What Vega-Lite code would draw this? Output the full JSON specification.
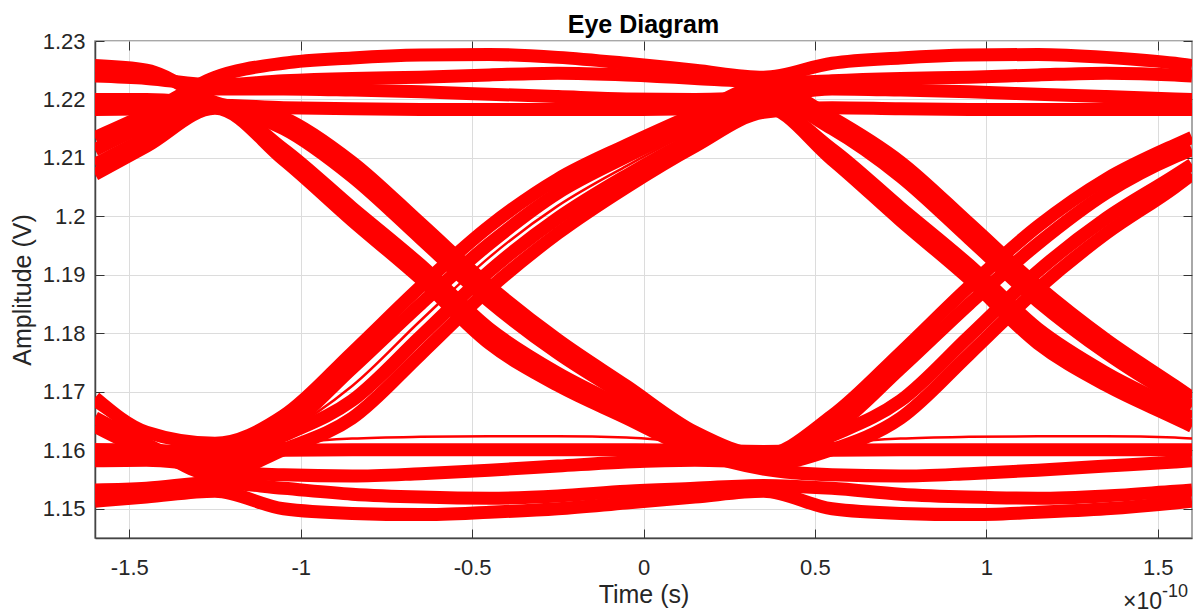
{
"$schema":"https://vega.github.io/schema/vega-lite/v6.json",
"width":1097,"height":497,"autosize":"none",
"padding":{"left":95,"top":41,"right":9,"bottom":78},
"background":"white",
"title":{"text":"Eye Diagram","font":"Liberation Sans","fontSize":25,"fontWeight":"bold","color":"#000000","offset":-8,"anchor":"middle"},
"config":{"view":{"stroke":"#8c8c8c","strokeWidth":1.5},"font":"Liberation Sans"},
"datasets":{"eye":[
{"i":1,"t":-1.6,"v":1.2135},{"i":1,"t":-1.45,"v":1.2175},{"i":1,"t":-1.25,"v":1.2238},{"i":1,"t":-1.05,"v":1.2262},{"i":1,"t":-0.85,"v":1.2271},{"i":1,"t":-0.65,"v":1.2276},{"i":1,"t":-0.45,"v":1.2277},{"i":1,"t":-0.25,"v":1.2272},{"i":1,"t":-0.05,"v":1.2262},{"i":1,"t":0.15,"v":1.2250},{"i":1,"t":0.35,"v":1.2238},{"i":1,"t":0.55,"v":1.2262},{"i":1,"t":0.75,"v":1.2271},{"i":1,"t":0.95,"v":1.2276},{"i":1,"t":1.15,"v":1.2277},{"i":1,"t":1.35,"v":1.2272},{"i":1,"t":1.55,"v":1.2262},{"i":1,"t":1.6,"v":1.2258},
{"i":2,"t":-1.6,"v":1.2240},{"i":2,"t":-1.45,"v":1.2236},{"i":2,"t":-1.25,"v":1.2225},{"i":2,"t":-1.05,"v":1.2232},{"i":2,"t":-0.85,"v":1.2236},{"i":2,"t":-0.65,"v":1.2238},{"i":2,"t":-0.45,"v":1.2242},{"i":2,"t":-0.25,"v":1.2245},{"i":2,"t":-0.05,"v":1.2242},{"i":2,"t":0.15,"v":1.2236},{"i":2,"t":0.35,"v":1.2228},{"i":2,"t":0.55,"v":1.2169},{"i":2,"t":0.75,"v":1.2093},{"i":2,"t":0.95,"v":1.1988},{"i":2,"t":1.15,"v":1.1881},{"i":2,"t":1.35,"v":1.1789},{"i":2,"t":1.55,"v":1.1710},{"i":2,"t":1.6,"v":1.1690},
{"i":3,"t":-1.6,"v":1.2114},{"i":3,"t":-1.45,"v":1.2158},{"i":3,"t":-1.25,"v":1.2218},{"i":3,"t":-1.05,"v":1.2218},{"i":3,"t":-0.85,"v":1.2216},{"i":3,"t":-0.65,"v":1.2213},{"i":3,"t":-0.45,"v":1.2209},{"i":3,"t":-0.25,"v":1.2205},{"i":3,"t":-0.05,"v":1.2201},{"i":3,"t":0.15,"v":1.2200},{"i":3,"t":0.35,"v":1.2205},{"i":3,"t":0.55,"v":1.2218},{"i":3,"t":0.75,"v":1.2216},{"i":3,"t":0.95,"v":1.2213},{"i":3,"t":1.15,"v":1.2209},{"i":3,"t":1.35,"v":1.2205},{"i":3,"t":1.55,"v":1.2201},{"i":3,"t":1.6,"v":1.2200},
{"i":4,"t":-1.6,"v":1.2183},{"i":4,"t":-1.45,"v":1.2184},{"i":4,"t":-1.25,"v":1.2190},{"i":4,"t":-1.05,"v":1.2186},{"i":4,"t":-0.85,"v":1.2184},{"i":4,"t":-0.65,"v":1.2183},{"i":4,"t":-0.45,"v":1.2183},{"i":4,"t":-0.25,"v":1.2183},{"i":4,"t":-0.05,"v":1.2183},{"i":4,"t":0.15,"v":1.2184},{"i":4,"t":0.35,"v":1.2188},{"i":4,"t":0.55,"v":1.2097},{"i":4,"t":0.75,"v":1.1993},{"i":4,"t":0.95,"v":1.1893},{"i":4,"t":1.15,"v":1.1783},{"i":4,"t":1.35,"v":1.1711},{"i":4,"t":1.55,"v":1.1655},{"i":4,"t":1.6,"v":1.1641},
{"i":5,"t":-1.6,"v":1.2089},{"i":5,"t":-1.45,"v":1.2135},{"i":5,"t":-1.25,"v":1.2190},{"i":5,"t":-1.05,"v":1.2115},{"i":5,"t":-0.85,"v":1.2015},{"i":5,"t":-0.65,"v":1.1917},{"i":5,"t":-0.45,"v":1.1808},{"i":5,"t":-0.25,"v":1.1732},{"i":5,"t":-0.05,"v":1.1672},{"i":5,"t":0.15,"v":1.1610},{"i":5,"t":0.35,"v":1.1575},{"i":5,"t":0.55,"v":1.1601},{"i":5,"t":0.75,"v":1.1655},{"i":5,"t":0.95,"v":1.1764},{"i":5,"t":1.15,"v":1.1876},{"i":5,"t":1.35,"v":1.1971},{"i":5,"t":1.55,"v":1.2050},{"i":5,"t":1.6,"v":1.2072},
{"i":6,"t":-1.6,"v":1.2072},{"i":6,"t":-1.45,"v":1.2120},{"i":6,"t":-1.25,"v":1.2185},{"i":6,"t":-1.05,"v":1.2097},{"i":6,"t":-0.85,"v":1.1993},{"i":6,"t":-0.65,"v":1.1893},{"i":6,"t":-0.45,"v":1.1783},{"i":6,"t":-0.25,"v":1.1711},{"i":6,"t":-0.05,"v":1.1655},{"i":6,"t":0.15,"v":1.1599},{"i":6,"t":0.35,"v":1.1568},{"i":6,"t":0.55,"v":1.1558},{"i":6,"t":0.75,"v":1.1556},{"i":6,"t":0.95,"v":1.1560},{"i":6,"t":1.15,"v":1.1566},{"i":6,"t":1.35,"v":1.1573},{"i":6,"t":1.55,"v":1.1580},{"i":6,"t":1.6,"v":1.1582},
{"i":7,"t":-1.6,"v":1.2258},{"i":7,"t":-1.45,"v":1.2250},{"i":7,"t":-1.25,"v":1.2195},{"i":7,"t":-1.05,"v":1.2169},{"i":7,"t":-0.85,"v":1.2093},{"i":7,"t":-0.65,"v":1.1988},{"i":7,"t":-0.45,"v":1.1881},{"i":7,"t":-0.25,"v":1.1789},{"i":7,"t":-0.05,"v":1.1710},{"i":7,"t":0.15,"v":1.1631},{"i":7,"t":0.35,"v":1.1592},{"i":7,"t":0.55,"v":1.1659},{"i":7,"t":0.75,"v":1.1767},{"i":7,"t":0.95,"v":1.1880},{"i":7,"t":1.15,"v":1.1983},{"i":7,"t":1.35,"v":1.2064},{"i":7,"t":1.55,"v":1.2122},{"i":7,"t":1.6,"v":1.2135},
{"i":8,"t":-1.6,"v":1.2200},{"i":8,"t":-1.45,"v":1.2200},{"i":8,"t":-1.25,"v":1.2188},{"i":8,"t":-1.05,"v":1.2150},{"i":8,"t":-0.85,"v":1.2068},{"i":8,"t":-0.65,"v":1.1962},{"i":8,"t":-0.45,"v":1.1855},{"i":8,"t":-0.25,"v":1.1766},{"i":8,"t":-0.05,"v":1.1692},{"i":8,"t":0.15,"v":1.1620},{"i":8,"t":0.35,"v":1.1585},{"i":8,"t":0.55,"v":1.1635},{"i":8,"t":0.75,"v":1.1740},{"i":8,"t":0.95,"v":1.1850},{"i":8,"t":1.15,"v":1.1953},{"i":8,"t":1.35,"v":1.2040},{"i":8,"t":1.55,"v":1.2102},{"i":8,"t":1.6,"v":1.2114},
{"i":9,"t":-1.6,"v":1.1601},{"i":9,"t":-1.45,"v":1.1600},{"i":9,"t":-1.25,"v":1.1595},{"i":9,"t":-1.05,"v":1.1600},{"i":9,"t":-0.85,"v":1.1601},{"i":9,"t":-0.65,"v":1.1601},{"i":9,"t":-0.45,"v":1.1601},{"i":9,"t":-0.25,"v":1.1601},{"i":9,"t":-0.05,"v":1.1601},{"i":9,"t":0.15,"v":1.1600},{"i":9,"t":0.35,"v":1.1598},{"i":9,"t":0.55,"v":1.1600},{"i":9,"t":0.75,"v":1.1601},{"i":9,"t":0.95,"v":1.1601},{"i":9,"t":1.15,"v":1.1601},{"i":9,"t":1.35,"v":1.1601},{"i":9,"t":1.55,"v":1.1601},{"i":9,"t":1.6,"v":1.1601},
{"i":10,"t":-1.6,"v":1.1641},{"i":10,"t":-1.45,"v":1.1599},{"i":10,"t":-1.25,"v":1.1565},{"i":10,"t":-1.05,"v":1.1558},{"i":10,"t":-0.85,"v":1.1556},{"i":10,"t":-0.65,"v":1.1560},{"i":10,"t":-0.45,"v":1.1566},{"i":10,"t":-0.25,"v":1.1573},{"i":10,"t":-0.05,"v":1.1580},{"i":10,"t":0.15,"v":1.1583},{"i":10,"t":0.35,"v":1.1580},{"i":10,"t":0.55,"v":1.1625},{"i":10,"t":0.75,"v":1.1685},{"i":10,"t":0.95,"v":1.1795},{"i":10,"t":1.15,"v":1.1906},{"i":10,"t":1.35,"v":1.1997},{"i":10,"t":1.55,"v":1.2070},{"i":10,"t":1.6,"v":1.2089},
{"i":11,"t":-1.6,"v":1.1532},{"i":11,"t":-1.45,"v":1.1535},{"i":11,"t":-1.25,"v":1.1545},{"i":11,"t":-1.05,"v":1.1535},{"i":11,"t":-0.85,"v":1.1525},{"i":11,"t":-0.65,"v":1.1520},{"i":11,"t":-0.45,"v":1.1518},{"i":11,"t":-0.25,"v":1.1522},{"i":11,"t":-0.05,"v":1.1530},{"i":11,"t":0.15,"v":1.1535},{"i":11,"t":0.35,"v":1.1540},{"i":11,"t":0.55,"v":1.1535},{"i":11,"t":0.75,"v":1.1525},{"i":11,"t":0.95,"v":1.1520},{"i":11,"t":1.15,"v":1.1518},{"i":11,"t":1.35,"v":1.1522},{"i":11,"t":1.55,"v":1.1530},{"i":11,"t":1.6,"v":1.1532},
{"i":12,"t":-1.6,"v":1.1513},{"i":12,"t":-1.45,"v":1.1520},{"i":12,"t":-1.25,"v":1.1530},{"i":12,"t":-1.05,"v":1.1500},{"i":12,"t":-0.85,"v":1.1492},{"i":12,"t":-0.65,"v":1.1490},{"i":12,"t":-0.45,"v":1.1494},{"i":12,"t":-0.25,"v":1.1500},{"i":12,"t":-0.05,"v":1.1510},{"i":12,"t":0.15,"v":1.1520},{"i":12,"t":0.35,"v":1.1530},{"i":12,"t":0.55,"v":1.1500},{"i":12,"t":0.75,"v":1.1492},{"i":12,"t":0.95,"v":1.1490},{"i":12,"t":1.15,"v":1.1494},{"i":12,"t":1.35,"v":1.1500},{"i":12,"t":1.55,"v":1.1510},{"i":12,"t":1.6,"v":1.1513},
{"i":13,"t":-1.6,"v":1.1690},{"i":13,"t":-1.45,"v":1.1631},{"i":13,"t":-1.25,"v":1.1612},{"i":13,"t":-1.05,"v":1.1659},{"i":13,"t":-0.85,"v":1.1767},{"i":13,"t":-0.65,"v":1.1880},{"i":13,"t":-0.45,"v":1.1983},{"i":13,"t":-0.25,"v":1.2064},{"i":13,"t":-0.05,"v":1.2122},{"i":13,"t":0.15,"v":1.2175},{"i":13,"t":0.35,"v":1.2225},{"i":13,"t":0.55,"v":1.2232},{"i":13,"t":0.75,"v":1.2236},{"i":13,"t":0.95,"v":1.2238},{"i":13,"t":1.15,"v":1.2242},{"i":13,"t":1.35,"v":1.2245},{"i":13,"t":1.55,"v":1.2242},{"i":13,"t":1.6,"v":1.2240},
{"i":14,"t":-1.6,"v":1.1601},{"i":14,"t":-1.45,"v":1.1600},{"i":14,"t":-1.25,"v":1.1595},{"i":14,"t":-1.05,"v":1.1635},{"i":14,"t":-0.85,"v":1.1740},{"i":14,"t":-0.65,"v":1.1850},{"i":14,"t":-0.45,"v":1.1953},{"i":14,"t":-0.25,"v":1.2040},{"i":14,"t":-0.05,"v":1.2102},{"i":14,"t":0.15,"v":1.2158},{"i":14,"t":0.35,"v":1.2205},{"i":14,"t":0.55,"v":1.2150},{"i":14,"t":0.75,"v":1.2068},{"i":14,"t":0.95,"v":1.1962},{"i":14,"t":1.15,"v":1.1855},{"i":14,"t":1.35,"v":1.1766},{"i":14,"t":1.55,"v":1.1692},{"i":14,"t":1.6,"v":1.1675},
{"i":15,"t":-1.6,"v":1.1582},{"i":15,"t":-1.45,"v":1.1583},{"i":15,"t":-1.25,"v":1.1575},{"i":15,"t":-1.05,"v":1.1625},{"i":15,"t":-0.85,"v":1.1685},{"i":15,"t":-0.65,"v":1.1795},{"i":15,"t":-0.45,"v":1.1906},{"i":15,"t":-0.25,"v":1.1997},{"i":15,"t":-0.05,"v":1.2070},{"i":15,"t":0.15,"v":1.2135},{"i":15,"t":0.35,"v":1.2190},{"i":15,"t":0.55,"v":1.2115},{"i":15,"t":0.75,"v":1.2015},{"i":15,"t":0.95,"v":1.1917},{"i":15,"t":1.15,"v":1.1808},{"i":15,"t":1.35,"v":1.1732},{"i":15,"t":1.55,"v":1.1672},{"i":15,"t":1.6,"v":1.1656},
{"i":16,"t":-1.6,"v":1.1656},{"i":16,"t":-1.45,"v":1.1610},{"i":16,"t":-1.25,"v":1.1558},{"i":16,"t":-1.05,"v":1.1601},{"i":16,"t":-0.85,"v":1.1655},{"i":16,"t":-0.65,"v":1.1764},{"i":16,"t":-0.45,"v":1.1876},{"i":16,"t":-0.25,"v":1.1971},{"i":16,"t":-0.05,"v":1.2050},{"i":16,"t":0.15,"v":1.2120},{"i":16,"t":0.35,"v":1.2178},{"i":16,"t":0.55,"v":1.2186},{"i":16,"t":0.75,"v":1.2184},{"i":16,"t":0.95,"v":1.2183},{"i":16,"t":1.15,"v":1.2183},{"i":16,"t":1.35,"v":1.2183},{"i":16,"t":1.55,"v":1.2183},{"i":16,"t":1.6,"v":1.2183},
{"i":17,"t":-1.6,"v":1.1675},{"i":17,"t":-1.45,"v":1.1620},{"i":17,"t":-1.25,"v":1.1585},{"i":17,"t":-1.05,"v":1.1630},{"i":17,"t":-0.85,"v":1.1710},{"i":17,"t":-0.65,"v":1.1822},{"i":17,"t":-0.45,"v":1.1930},{"i":17,"t":-0.25,"v":1.2018},{"i":17,"t":-0.05,"v":1.2086},{"i":17,"t":0.15,"v":1.2147},{"i":17,"t":0.35,"v":1.2196},{"i":17,"t":0.55,"v":1.2186},{"i":17,"t":0.75,"v":1.2184},{"i":17,"t":0.95,"v":1.2183},{"i":17,"t":1.15,"v":1.2183},{"i":17,"t":1.35,"v":1.2183},{"i":17,"t":1.55,"v":1.2183},{"i":17,"t":1.6,"v":1.2183},
{"i":18,"t":-1.6,"v":1.1601},{"i":18,"t":-1.45,"v":1.1600},{"i":18,"t":-1.25,"v":1.1600},{"i":18,"t":-1.05,"v":1.1612},{"i":18,"t":-0.85,"v":1.1620},{"i":18,"t":-0.65,"v":1.1623},{"i":18,"t":-0.45,"v":1.1624},{"i":18,"t":-0.25,"v":1.1624},{"i":18,"t":-0.05,"v":1.1622},{"i":18,"t":0.15,"v":1.1612},{"i":18,"t":0.35,"v":1.1600},{"i":18,"t":0.55,"v":1.1612},{"i":18,"t":0.75,"v":1.1620},{"i":18,"t":0.95,"v":1.1623},{"i":18,"t":1.15,"v":1.1624},{"i":18,"t":1.35,"v":1.1624},{"i":18,"t":1.55,"v":1.1622},{"i":18,"t":1.6,"v":1.1620}
]},
"layer":[
{"data":{"name":"eye"},"transform":[{"filter":"datum.i < 17"}],
 "mark":{"type":"line","interpolate":"monotone","color":"#ff0000","strokeWidth":13,"clip":true},
 "encoding":{
  "x":{"field":"t","type":"quantitative","scale":{"domain":[-1.6,1.6],"nice":false,"zero":false},
   "axis":{"orient":"bottom","values":[-1.5,-1,-0.5,0,0.5,1,1.5],"labelExpr":"replace(format(datum.value, '.1~f'), '\u2212', '-')","title":"Time (s)","grid":true,"gridColor":"#dcdcdc","gridWidth":1,"tickSize":-9,"tickColor":"#333333","tickWidth":1,"domainColor":"#444444","domainWidth":1.5,"labelFontSize":22,"labelColor":"#262626","labelPadding":28,"titleFontSize":25,"titleFontWeight":"normal","titleColor":"#262626","titlePadding":4,"labelFont":"Liberation Sans","titleFont":"Liberation Sans"}},
  "y":{"field":"v","type":"quantitative","scale":{"domain":[1.145,1.23],"nice":false,"zero":false},
   "axis":{"orient":"left","values":[1.15,1.16,1.17,1.18,1.19,1.2,1.21,1.22,1.23],"format":".2~f","title":"Amplitude (V)","grid":true,"gridColor":"#dcdcdc","gridWidth":1,"tickSize":-9,"tickColor":"#333333","tickWidth":1,"domainColor":"#444444","domainWidth":1.5,"labelFontSize":22,"labelColor":"#262626","labelPadding":19,"titleFontSize":25,"titleFontWeight":"normal","titleColor":"#262626","titlePadding":7,"labelFont":"Liberation Sans","titleFont":"Liberation Sans"}},
  "detail":{"field":"i","type":"nominal"}}},
{"data":{"name":"eye"},"transform":[{"filter":"datum.i >= 17"}],
 "mark":{"type":"line","interpolate":"monotone","color":"#ff0000","strokeWidth":2.5,"clip":true},
 "encoding":{
  "x":{"field":"t","type":"quantitative","scale":{"domain":[-1.6,1.6],"nice":false,"zero":false},"axis":null},
  "y":{"field":"v","type":"quantitative","scale":{"domain":[1.145,1.23],"nice":false,"zero":false},"axis":null},
  "detail":{"field":"i","type":"nominal"}}},
{"data":{"name":"eye"},
 "mark":{"type":"line","opacity":0},
 "encoding":{
  "x":{"field":"t","type":"quantitative","scale":{"domain":[-1.6,1.6],"nice":false,"zero":false},
   "axis":{"orient":"top","values":[-1.5,-1,-0.5,0,0.5,1,1.5],"labels":false,"title":null,"grid":false,"domain":false,"tickSize":-9,"tickColor":"#333333","tickWidth":1}},
  "y":{"field":"v","type":"quantitative","scale":{"domain":[1.145,1.23],"nice":false,"zero":false},
   "axis":{"orient":"right","values":[1.15,1.16,1.17,1.18,1.19,1.2,1.21,1.22,1.23],"labels":false,"title":null,"grid":false,"domain":false,"tickSize":-9,"tickColor":"#333333","tickWidth":1}},
  "detail":{"field":"i","type":"nominal"}}},
{"data":{"values":[{"s":"×10"}]},
 "mark":{"type":"text","align":"right","baseline":"alphabetic","dx":-30,"dy":71,"fontSize":23,"font":"Liberation Sans","color":"#262626"},
 "encoding":{
  "x":{"datum":1.6,"type":"quantitative","scale":{"domain":[-1.6,1.6],"nice":false,"zero":false},"axis":null},
  "y":{"datum":1.145,"type":"quantitative","scale":{"domain":[1.145,1.23],"nice":false,"zero":false},"axis":null},
  "text":{"field":"s"}}},
{"data":{"values":[{"s":"-10"}]},
 "mark":{"type":"text","align":"left","baseline":"alphabetic","dx":-30,"dy":59,"fontSize":18,"font":"Liberation Sans","color":"#262626"},
 "encoding":{
  "x":{"datum":1.6,"type":"quantitative","scale":{"domain":[-1.6,1.6],"nice":false,"zero":false},"axis":null},
  "y":{"datum":1.145,"type":"quantitative","scale":{"domain":[1.145,1.23],"nice":false,"zero":false},"axis":null},
  "text":{"field":"s"}}}
],
"resolve":{"axis":{"x":"independent","y":"independent"}}
}
